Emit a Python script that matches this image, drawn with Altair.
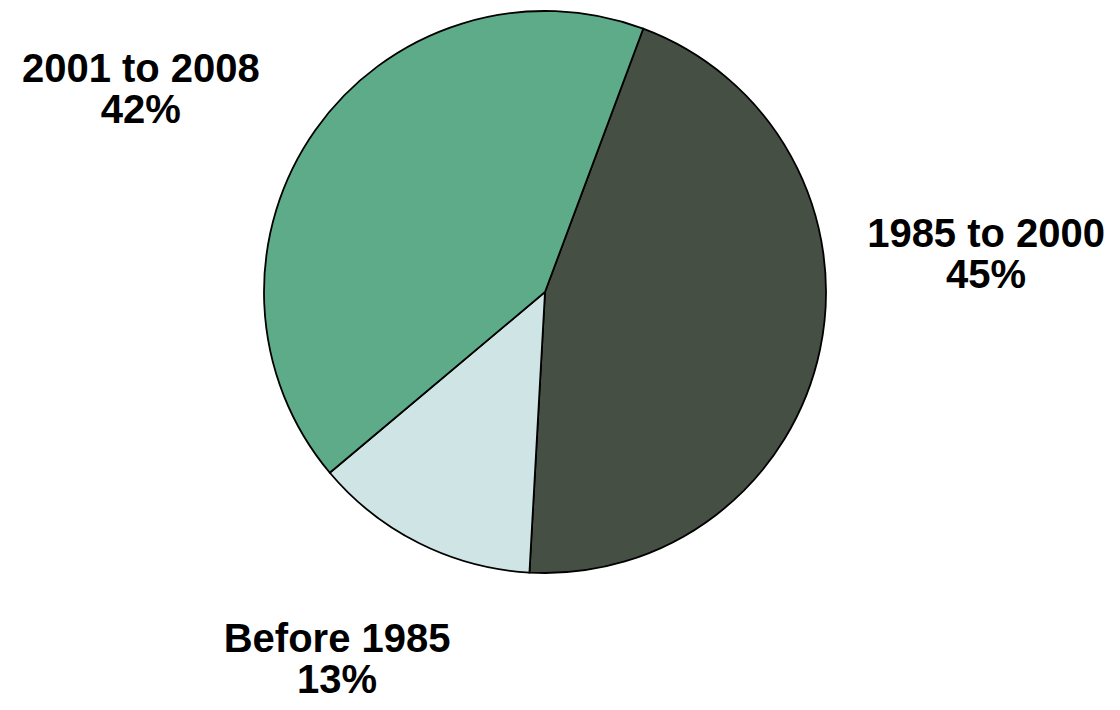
import altair as alt
import pandas as pd

categories = ["1985 to 2000", "Before 1985", "2001 to 2008"]
values = [45.2, 13.0, 41.8]
pct_labels = ["45%", "13%", "42%"]
slice_order = [0, 1, 2]
colors = ["#464f44", "#cfe5e5", "#5dab89"]

df = pd.DataFrame({"cat": categories, "value": values, "pct": pct_labels, "ord": slice_order})

start = 0.357  # radians, first slice boundary measured clockwise from 12 o'clock
theta = alt.Theta("value:Q", stack=True,
                  scale=alt.Scale(range=[start, start + 2 * 3.141592653589793]))
color = alt.Color("cat:N", scale=alt.Scale(domain=categories, range=colors), legend=None)
order = alt.Order("ord:Q")

base = alt.Chart(df).encode(theta=theta, order=order)

pie = base.mark_arc(radius=281, stroke="black", strokeWidth=1.8).encode(color=color)

font = dict(font="Liberation Sans", fontWeight="bold", fontSize=40, lineHeight=41,
            align="center", baseline="alphabetic", color="black", radius=420)

label_offsets = {
    "1985 to 2000": (30, -131),
    "Before 1985": (-20, -16),
    "2001 to 2008": (-61, 32),
}

labels = []
for c, (ddx, ddy) in label_offsets.items():
    t = base.transform_calculate(lines="[datum.cat, datum.pct]").mark_text(
        dx=ddx, dy=ddy, **font
    ).encode(
        text=alt.condition(f"datum.cat == '{c}'", alt.Text("lines:N"), alt.value("")),
    )
    labels.append(t)

chart = alt.layer(pie, *labels).properties(
    width=1074, height=568,
    autosize=alt.AutoSizeParams(type="none"),
    padding={"left": 0, "top": 0, "right": 30, "bottom": 126},
).configure_view(stroke=None)

chart.save("out.html", embed_options={"renderer": "svg", "actions": False})
